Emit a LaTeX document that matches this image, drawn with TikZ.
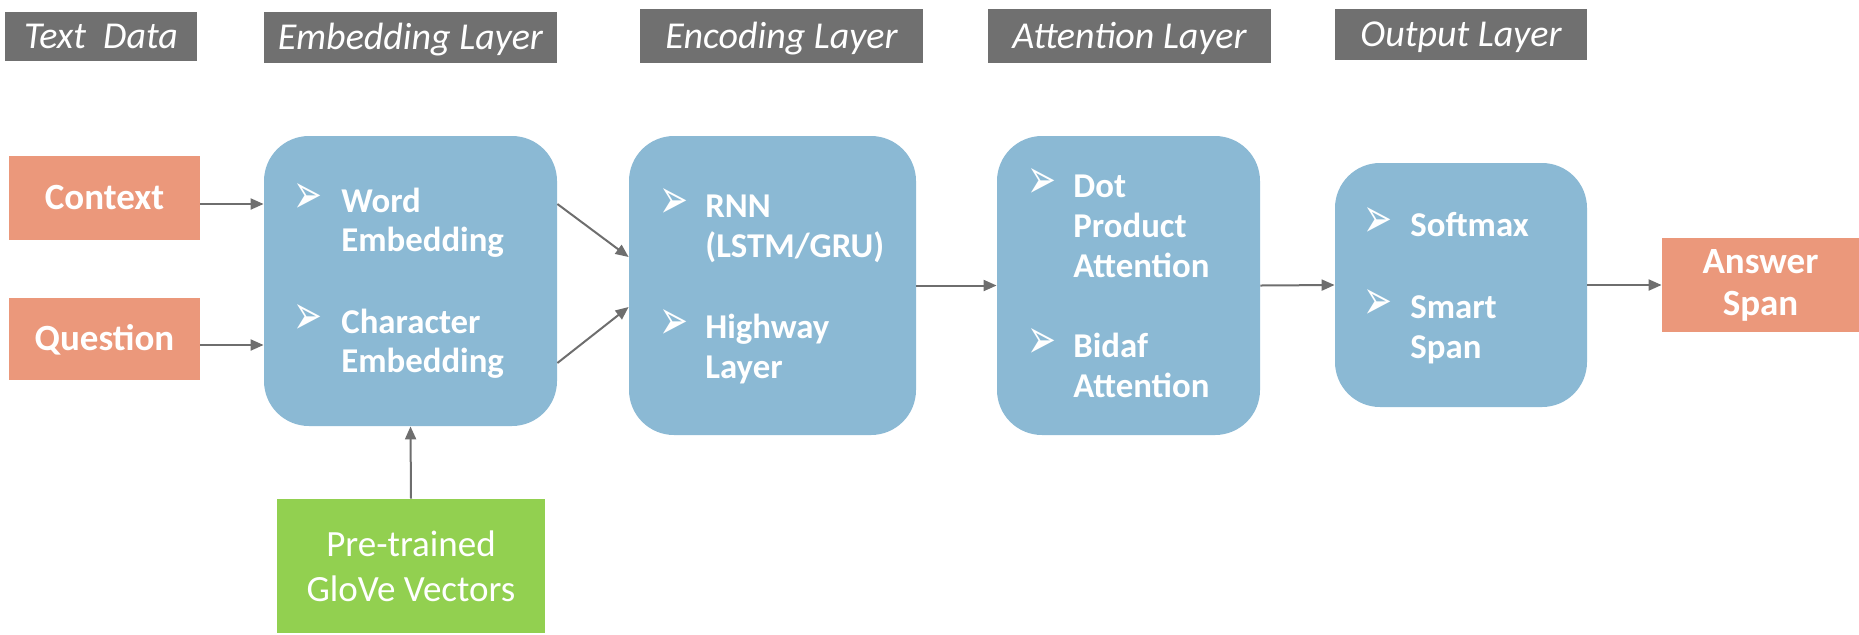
\documentclass[tikz,border=0pt]{standalone}
\usepackage{graphicx}
\usepackage{fontspec}
\setmainfont{Carlito}
\newfontfamily\dejavu{DejaVu Sans}
\usetikzlibrary{arrows.meta,calc}
\definecolor{hdrgray}{RGB}{112,112,112}
\definecolor{salmon}{RGB}{235,152,123}
\definecolor{skyblue}{RGB}{139,185,212}
\definecolor{leaf}{RGB}{146,208,80}
\definecolor{arrgray}{RGB}{110,110,110}
\newcommand\bulglyph{\resizebox{14.5pt}{15pt}{\dejavu ➢}}
\begin{document}
\begin{tikzpicture}[x=0.5pt,y=-0.5pt,
  hdr/.style={fill=hdrgray, text=white, font=\fontsize{19}{22}\selectfont\itshape,
    inner sep=0pt, text height=12.2pt, text depth=0pt},
  io/.style={fill=salmon, text=white, font=\fontsize{18.5}{21}\selectfont\bfseries,
    inner sep=0pt, align=center},
  iosingle/.style={io, text height=11.9pt, text depth=0pt},
  layer/.style={fill=skyblue, rounded corners=22.5pt, inner sep=0pt},
  glovebox/.style={fill=leaf, text=white, font=\fontsize{18.5}{22.5}\selectfont,
    inner sep=0pt, align=center},
  btext/.style={text=white, font=\fontsize{17.4}{19.5}\selectfont\bfseries,
    inner sep=0pt, anchor=base west},
  bul/.style={text=white, inner sep=0pt, anchor=base west},
  arr/.style={draw=arrgray, line width=1pt, -{Triangle[length=6.5pt,width=5.5pt]}}
]
\useasboundingbox (0,0) rectangle (1859,634);

% headers
\node[hdr, minimum width=96pt, minimum height=24.5pt] (hText) at (101,36.5) {Text\ \ Data};
\node[hdr, minimum width=146.5pt, minimum height=25.5pt] (hEmb) at (410.5,37.5) {Embedding Layer};
\node[hdr, minimum width=141.5pt, minimum height=27pt] (hEnc) at (781.5,36) {Encoding Layer};
\node[hdr, minimum width=141.5pt, minimum height=27pt] (hAtt) at (1129.5,36) {Attention Layer};
\node[hdr, minimum width=126pt, minimum height=25.5pt] (hOut) at (1461,34.5) {Output Layer};

% inputs / output
\node[iosingle, minimum width=95.5pt, minimum height=42pt] (context) at (104.5,198) {Context};
\node[iosingle, minimum width=95.5pt, minimum height=41pt] (question) at (104.5,339) {Question};
\node[io, minimum width=98.5pt, minimum height=47pt] (answer) at (1760.5,285) {Answer\\Span};
\node[glovebox, minimum width=134pt, minimum height=67pt] (glove) at (411,566) {Pre-trained\\GloVe Vectors};

% layer boxes
\node[layer, minimum width=146.5pt, minimum height=145pt] (emb) at (410.5,281) {};
\node[layer, minimum width=143.5pt, minimum height=149.5pt] (enc) at (772.5,285.5) {};
\node[layer, minimum width=131.5pt, minimum height=149.5pt] (att) at (1128.5,285.5) {};
\node[layer, minimum width=126pt, minimum height=122pt] (out) at (1461,285) {};

% embedding layer text
\node[bul] (eb1) at (293,213) {\bulglyph};
\node[btext] (et1) at (341,212) {Word};
\node[btext] (et2) at (341,251) {Embedding};
\node[bul] (eb2) at (293,334) {\bulglyph};
\node[btext] (et3) at (341,333) {Character};
\node[btext] (et4) at (341,372) {Embedding};

% encoding layer text
\node[bul] (nb1) at (659,218) {\bulglyph};
\node[btext] (nt1) at (705,217) {RNN};
\node[btext] (nt2) at (705,257) {(LSTM/GRU)};
\node[bul] (nb2) at (659,339) {\bulglyph};
\node[btext] (nt3) at (705,338) {Highway};
\node[btext] (nt4) at (705,378) {Layer};

% attention layer text
\node[bul] (ab1) at (1027,198) {\bulglyph};
\node[btext] (at1) at (1073,197) {Dot};
\node[btext] (at2) at (1073,237) {Product};
\node[btext] (at3) at (1073,277) {Attention};
\node[bul] (ab2) at (1027,358) {\bulglyph};
\node[btext] (at4) at (1073,357) {Bidaf};
\node[btext] (at5) at (1073,397) {Attention};

% output layer text
\node[bul] (ob1) at (1363,237) {\bulglyph};
\node[btext] (ot1) at (1410,236) {Softmax};
\node[bul] (ob2) at (1363,319) {\bulglyph};
\node[btext] (ot2) at (1410,318) {Smart};
\node[btext] (ot3) at (1410,358) {Span};

% connectors
\draw[arr] ([yshift=-3pt]context.east) -- ([yshift=38.5pt]emb.west);
\draw[arr] ([yshift=-3pt]question.east) -- ([yshift=-32pt]emb.west);
\draw[arr] ([yshift=38.5pt]emb.east) -- ([yshift=14.25pt]enc.west);
\draw[arr] ([yshift=-41pt]emb.east) -- ([yshift=-10.75pt]enc.west);
\draw[arr] (enc.east) -- (att.west);
\draw[arr] (att.east) -- (out.west);
\draw[arr] (out.east) -- (answer.west);
\draw[arr] (glove.north) -- (emb.south);
\end{tikzpicture}
\end{document}
